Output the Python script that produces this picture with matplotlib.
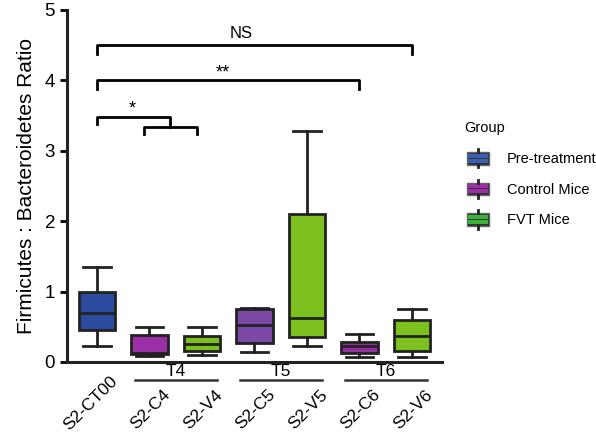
import matplotlib
matplotlib.use('Agg')
import matplotlib.pyplot as plt
import matplotlib.transforms as mtransforms
from matplotlib.patches import Rectangle
from matplotlib.lines import Line2D
from matplotlib.legend_handler import HandlerBase

plt.rcParams['font.family'] = ['Liberation Sans', 'DejaVu Sans']

# ---- data ----
labels = ['S2-CT00', 'S2-C4', 'S2-V4', 'S2-C5', 'S2-V5', 'S2-C6', 'S2-V6']
whislo = [0.22, 0.09, 0.10, 0.14, 0.23, 0.07, 0.07]
q1 = [0.45, 0.11, 0.16, 0.27, 0.35, 0.13, 0.15]
med = [0.69, 0.13, 0.25, 0.53, 0.63, 0.23, 0.37]
q3 = [0.99, 0.39, 0.37, 0.75, 2.10, 0.29, 0.60]
whishi = [1.35, 0.50, 0.49, 0.77, 3.28, 0.40, 0.75]
colors = ['#2b4c9e', '#9a2fa6', '#7cc11f', '#7a4aa6', '#7cc11f', '#922f9e', '#7cc11f']
time_groups = ['T4', 'T5', 'T6']
legend_names = ['Pre-treatment', 'Control Mice', 'FVT Mice']
legend_colors = ['#3a5fb0', '#9a2fa6', '#3bb33b']

fig = plt.figure(figsize=(5.96, 4.33), dpi=100)
ax = fig.add_axes([0.1124, 0.164, 0.629, 0.813])

stats = []
for i in range(len(labels)):
    stats.append(dict(label=labels[i], whislo=whislo[i], q1=q1[i], med=med[i],
                      q3=q3[i], whishi=whishi[i], fliers=[]))

bp = ax.bxp(stats, positions=range(len(labels)), widths=0.69, patch_artist=True,
            showfliers=False,
            boxprops=dict(linewidth=2.0, edgecolor='#222222'),
            medianprops=dict(color='#222222', linewidth=2.0),
            whiskerprops=dict(color='#222222', linewidth=2.0),
            capprops=dict(color='#222222', linewidth=2.0))
for patch, c in zip(bp['boxes'], colors):
    patch.set_facecolor(c)
for cap in bp['caps']:
    x = cap.get_xdata()
    m = (x[0] + x[1]) / 2
    cap.set_xdata([m - 0.26, m + 0.26])

ax.set_xlim(-0.57, 6.57)
ax.set_ylim(0, 5)
ax.set_yticks([0, 1, 2, 3, 4, 5])
ax.tick_params(axis='y', labelsize=13.5, width=2, length=5, direction='out')
ax.tick_params(axis='x', length=0, labelsize=12.5, pad=0)
ax.set_xticks(range(len(labels)))
ax.set_xticklabels(labels, rotation=45, ha='right', rotation_mode='anchor')
# first label sits just under the axis, grouped ones drop below the T-lines
for i, lab in enumerate(ax.get_xticklabels()):
    dx, dy = (13, -11) if i == 0 else (13, -25)
    off = mtransforms.ScaledTranslation(dx / 100, dy / 100, fig.dpi_scale_trans)
    lab.set_transform(lab.get_transform() + off)
for s in ['top', 'right']:
    ax.spines[s].set_visible(False)
for s in ['left', 'bottom']:
    ax.spines[s].set_linewidth(2.2)
    ax.spines[s].set_color('#222222')
ax.set_ylabel('Firmicutes : Bacteroidetes Ratio', fontsize=15, labelpad=6)

# time group labels under the axis
for k, g in enumerate(time_groups):
    a = 1 + 2 * k
    ax.plot([a - 0.28, a + 1.28], [-0.25, -0.25], color='#333333', lw=1.8,
            clip_on=False)
    ax.text(a + 0.5, -0.24, g, ha='center', va='bottom', fontsize=12.5)

# significance brackets
kw = dict(color='black', lw=2.0, clip_on=False)
ax.plot([0, 0, 6, 6], [4.38, 4.5, 4.5, 4.38], **kw)
ax.text(2.75, 4.56, 'NS', ha='center', va='bottom', fontsize=12)
ax.plot([0, 0, 5, 5], [3.88, 4.0, 4.0, 3.88], **kw)
ax.text(2.4, 3.98, '**', ha='center', va='bottom', fontsize=13)
ax.plot([0, 0, 1.4, 1.4], [3.38, 3.48, 3.48, 3.34], **kw)
ax.plot([0.9, 0.9, 1.9, 1.9], [3.24, 3.34, 3.34, 3.24], **kw)
ax.text(0.67, 3.47, '*', ha='center', va='bottom', fontsize=13)


class MiniBox(HandlerBase):
    # small box-plot glyph: dark box, two coloured bars, whisker stubs
    def create_artists(self, legend, orig, xdescent, ydescent, width, height, fontsize, trans):
        c = orig.get_facecolor()
        cx = width / 2 - xdescent
        w = width * 0.8
        h = height * 0.85
        y0 = height / 2 - ydescent
        box = Rectangle((cx - w / 2, y0 - h / 2), w, h, facecolor='#2e2e2e',
                        edgecolor='#666666', lw=1, transform=trans)
        arts = [box]
        for dy in (-0.2, 0.2):
            arts.append(Line2D([cx - w * 0.36, cx + w * 0.36], [y0 + dy * h, y0 + dy * h],
                               color=c, lw=3, transform=trans))
        arts.append(Line2D([cx, cx], [y0 + h / 2, y0 + h * 0.72], color='#222222', lw=2, transform=trans))
        arts.append(Line2D([cx, cx], [y0 - h / 2, y0 - h * 0.72], color='#222222', lw=2, transform=trans))
        return arts


handles = [Rectangle((0, 0), 1, 1, facecolor=c) for c in legend_colors]
leg = fig.legend(handles, legend_names, loc='upper left', bbox_to_anchor=(0.757, 0.75),
                 frameon=False, title='Group', fontsize=10.5, title_fontsize=10.5,
                 handler_map={Rectangle: MiniBox()}, handlelength=1.9, handleheight=1.2,
                 labelspacing=1.05, handletextpad=1.0)
leg._legend_box.align = 'left'

fig.savefig('out.png', dpi=100)
